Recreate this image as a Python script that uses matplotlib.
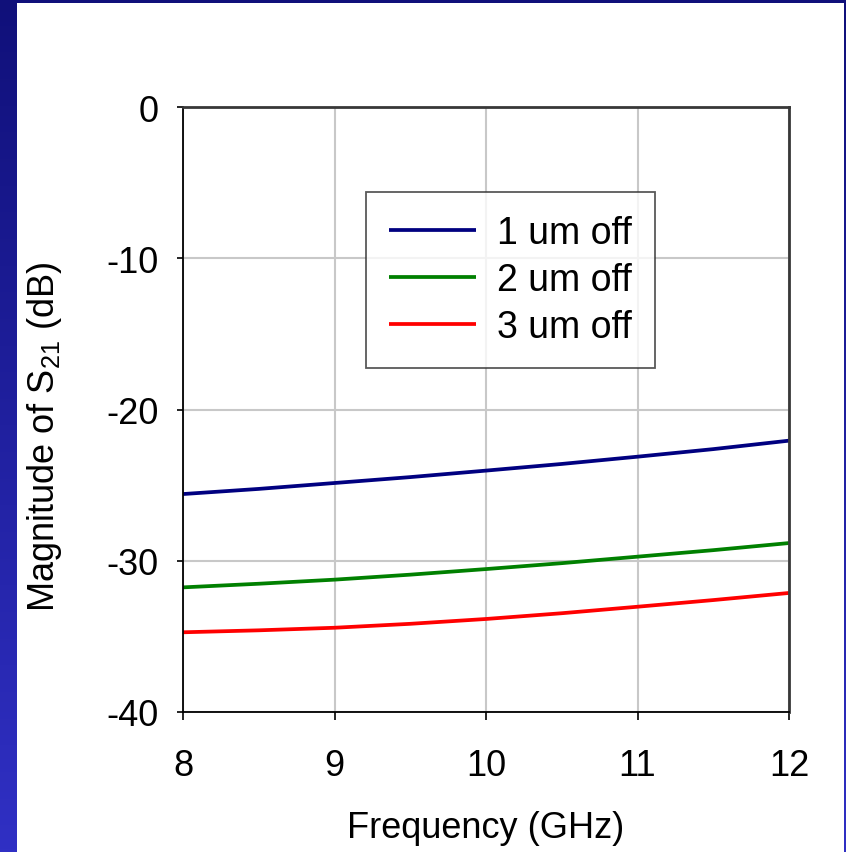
import numpy as np
import matplotlib
matplotlib.use("Agg")
import matplotlib.pyplot as plt
from matplotlib.patches import Rectangle

plt.rcParams['font.family'] = ['Liberation Sans', 'DejaVu Sans']
plt.rcParams['axes.unicode_minus'] = False
plt.rcParams['mathtext.fontset'] = 'custom'
plt.rcParams['mathtext.rm'] = 'Liberation Sans'

# frequency (GHz) and |S21| (dB)
freq = [8, 8.5, 9, 9.5, 10, 10.5, 11, 11.5, 12]
s21_1um = [-25.59, -25.25, -24.86, -24.47, -24.04, -23.6, -23.12, -22.62, -22.06]
s21_2um = [-31.76, -31.52, -31.25, -30.92, -30.55, -30.16, -29.73, -29.3, -28.83]
s21_3um = [-34.73, -34.6, -34.43, -34.17, -33.85, -33.47, -33.04, -32.6, -32.13]
labels = ['1 um off', '2 um off', '3 um off']
colors = ['#000080', '#008000', '#ff0000']

fig = plt.figure(figsize=(8.46, 8.53), dpi=100)

# slide-like background: blue gradient border with white panel
bg = fig.add_axes([0, 0, 1, 1], zorder=-10)
grad = np.linspace(0, 1, 256).reshape(-1, 1)
cmap = matplotlib.colors.LinearSegmentedColormap.from_list('bl', ['#10107a', '#3030c4'])
bg.imshow(grad, aspect='auto', cmap=cmap, extent=[0, 1, 0, 1], origin='upper')
bg.add_patch(Rectangle((17 / 846, 0), (844 - 17) / 846, 1 - 4 / 853,
                       facecolor='white', edgecolor='none'))
bg.set_xlim(0, 1)
bg.set_ylim(0, 1)
bg.axis('off')

ax = fig.add_axes([183 / 846, 1 - 713 / 853, (789 - 183) / 846, (713 - 108) / 853])
ax.set_facecolor('none')

for ys, c, lab in zip([s21_1um, s21_2um, s21_3um], colors, labels):
    ax.plot(freq, ys, color=c, lw=2.7, label=lab, solid_capstyle='butt')

ax.set_xlim(8, 12)
ax.set_ylim(-40, 0)
ax.set_xticks([8, 9, 10, 11, 12])
ax.set_yticks([0, -10, -20, -30, -40])
ax.grid(True, color='#c8c8c8', lw=1.5)
ax.set_axisbelow(True)

for s in ['left', 'bottom']:
    ax.spines[s].set_color('black')
    ax.spines[s].set_linewidth(1.3)
for s in ['top', 'right']:
    ax.spines[s].set_color('#383838')
    ax.spines[s].set_linewidth(2.0)

ax.tick_params(axis='y', direction='out', length=4.5, width=1.2, pad=13, labelsize=26)
ax.tick_params(axis='x', direction='out', length=6, width=1.2, pad=20, labelsize=26)

ax.set_xlabel('Frequency (GHz)', fontsize=26)
ax.set_ylabel('Magnitude of S$_{\\mathrm{21}}$ (dB)', fontsize=26)
ax.xaxis.set_label_coords(0.5, -(811 - 713) / 605)
ax.yaxis.set_label_coords((64 - 183) / 606, 1 - (437 - 108) / 605)

leg = ax.legend(loc='upper left', bbox_to_anchor=((366 - 183) / 606, 1 - (193 - 108) / 605),
                fontsize=27, frameon=True, fancybox=False, handlelength=2.3,
                handletextpad=0.56, labelspacing=0.29, borderpad=0.62, borderaxespad=0)
leg.get_frame().set_edgecolor('#303030')
leg.get_frame().set_linewidth(1.3)

fig.savefig('out.png', dpi=100)
